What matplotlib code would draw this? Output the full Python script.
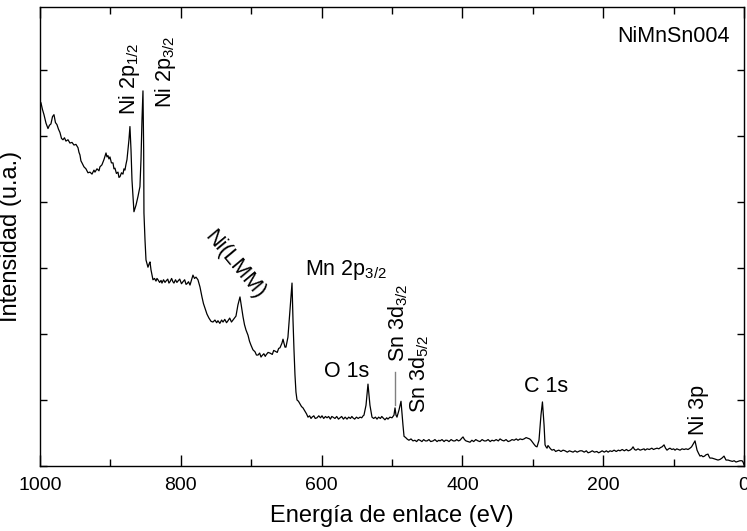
import numpy as np
import matplotlib
matplotlib.use("Agg")
import matplotlib.pyplot as plt

plt.rcParams['font.family'] = ['Liberation Sans', 'DejaVu Sans']
plt.rcParams['mathtext.default'] = 'regular'

# espectro XPS de barrido (energia de enlace en eV, intensidad en u.a.)
energia = [
    # 1000-876 eV, fondo alto
    1000.0, 998.6, 996.5, 994.3, 991.4, 988.6, 986.5, 984.4, 982.2, 980.1,
    978.0, 975.9, 973.7, 971.6, 969.4, 967.3, 965.2, 963.1, 960.2, 957.4,
    954.5, 951.7, 948.9, 946.0, 944.6, 943.2, 941.8, 940.3, 937.5, 934.7,
    931.8, 929.0, 926.1, 923.3, 921.9, 919.0, 916.2, 914.8, 912.0, 909.1,
    907.7, 906.2, 904.8, 903.4, 902.0, 900.6, 898.5, 896.3, 894.9, 893.5,
    891.4, 889.2, 887.8, 886.4, 884.2, 882.1, 880.7, 879.3, 877.8, 876.4,
    # Ni 2p
    873.6, 872.2, 870.7, 869.3, 866.5, 863.6, 860.8, 858.0, 856.5, 855.1,
    853.7, 852.7, 852.3, 850.8, 849.4, 846.6, 845.0, 843.7, 842.3,
    # 840-787 eV
    839.5, 837.3, 835.2, 833.8, 832.4, 830.0, 828.0, 826.7, 824.5, 822.4,
    821.0, 818.5, 816.8, 815.3, 813.0, 811.2, 809.7, 807.5, 805.5, 804.0,
    801.5, 799.0, 796.9, 794.5, 792.5, 791.2, 789.0, 786.9,
    782.7, 780.5, 778.4, 775.6, 772.7, 769.9, 767.8, 765.6, 762.8, 760.0, 757.0,
    754.3, 751.5, 749.0, 747.2, 744.5, 742.0, 740.0, 737.5, 735.0, 732.9,
    730.5, 728.0, 725.8,
    # Ni LMM
    721.6, 718.8, 715.9, 713.1, 711.6, 709.5, 707.4, 704.5, 702.4, 700.3, 697.5,
    694.6, 692.5, 690.3, 688.0, 686.0, 684.7, 682.0, 680.0, 679.0, 676.0,
    673.3, 670.0, 668.0, 666.2, 663.0, 661.0, 659.1,
    # Mn 2p
    656.3, 654.8, 652.0, 650.6, 647.8, 644.9, 642.0, 640.6, 639.2, 637.8,
    636.4, 634.9, 632.8, 630.7, 628.5, 626.4, 623.6, 621.4, 619.3,
    617.0, 615.0, 613.6, 611.0, 609.0, 606.5, 604.0, 601.5, 599.4, 597.0,
    594.5, 592.3, 590.0, 587.5, 585.5, 583.8, 581.0, 578.5, 576.0, 573.8,
    571.5, 569.0, 566.5, 563.9, 561.5, 559.0, 557.0, 555.5, 553.0, 550.5,
    548.0, 545.4, 543.0, 541.0, 539.8,
    # O 1s y Sn 3d
    536.9, 534.1, 531.3, 528.4, 526.0, 523.5, 521.3, 519.0, 516.5, 514.5,
    512.8, 510.0, 507.5, 505.7, 503.0, 500.0, 497.2, 495.7, 494.3, 492.9,
    490.0, 487.2, 484.4, 482.9, 480.5, 478.7,
    476.0, 473.0, 470.2, 467.5, 465.0, 462.5, 460.2, 457.5, 455.0, 452.5,
    450.2, 447.5, 445.0, 441.7, 439.0, 436.0, 433.5, 431.8, 429.0, 426.0,
    424.0, 421.8, 419.0, 416.0, 413.0, 410.5, 408.0, 405.5, 403.4, 401.0,
    399.1, 397.0, 394.9, 392.0, 389.2, 386.5, 384.0, 381.0, 377.8, 375.0,
    372.0, 369.0, 366.4, 363.5, 360.5, 358.0, 355.1, 352.0, 349.0, 346.5,
    343.7, 341.0, 338.0, 335.0, 332.4, 329.5, 326.5, 323.5, 321.0, 318.0,
    315.0, 312.5, 309.5, 306.8, 304.5, 302.5, 300.4, 298.3,
    # C 1s
    296.0, 294.0, 291.2, 288.4, 286.3, 284.0, 282.6, 281.2, 279.8, 278.4,
    276.9, 274.8, 272.7,
    270.0, 267.5, 265.6, 263.0, 260.0, 257.0, 254.2, 251.0, 248.0, 245.5,
    242.8, 240.0, 237.0, 233.0, 230.1, 227.0, 224.0, 221.5, 218.7, 215.5,
    212.5, 209.0, 206.5, 204.5, 201.5, 198.5, 195.5, 193.0, 190.3, 187.5,
    184.5, 181.5, 178.5, 176.1, 173.0, 170.0, 167.0, 164.5, 161.9, 159.5,
    157.6, 155.5, 153.4, 150.5, 147.5, 144.5, 142.0, 140.6, 137.5, 134.5,
    131.0, 128.5, 126.4, 123.5, 121.0, 118.5, 116.4, 113.6, 111.5, 109.4,
    107.0, 105.1, 102.5, 100.0, 98.0, 95.5, 93.0, 90.9, 88.0, 85.0,
    82.4, 79.5, 76.7, 74.5,
    # Ni 3p
    72.4, 69.6, 66.7, 64.5, 62.5, 60.5, 58.3, 56.0, 54.0, 51.2,
    49.5, 48.4, 45.5, 42.6, 40.0, 36.9, 34.0, 31.3, 28.4, 25.6,
    22.5, 19.9, 16.5, 14.0, 11.4, 8.5, 5.7, 2.8, 1.4, 0.0,
]
intensidad = [
    55.2, 55.0, 54.0, 53.2, 51.9, 51.1, 51.6, 51.8, 52.9, 53.2,
    52.0, 51.7, 51.0, 50.5, 49.6, 49.4, 49.7, 49.2, 49.4, 48.9,
    49.0, 48.6, 48.7, 48.2, 47.5, 47.1, 46.2, 45.9, 45.3, 45.0,
    44.4, 44.5, 44.2, 44.8, 44.5, 45.0, 44.7, 45.3, 45.6, 46.4,
    46.9, 47.4, 46.8, 47.0, 46.5, 46.8, 45.9, 45.9, 45.0, 45.1,
    44.3, 44.5, 43.7, 43.8, 44.4, 44.2, 45.0, 44.8, 45.7, 46.4,
    49.4, 51.4, 47.9, 43.3, 38.5, 39.5, 40.8, 42.3, 46.4, 52.4,
    56.8, 47.9, 38.3, 34.2, 31.2, 30.1, 30.6, 30.9, 29.7,
    28.2, 28.4, 28.0, 28.4, 28.2, 27.8, 28.1, 27.7, 28.2, 27.8,
    28.0, 28.3, 27.7, 27.9, 28.4, 27.9, 27.7, 28.2, 27.8, 28.0,
    28.3, 27.6, 27.9, 28.2, 27.5, 27.6, 27.9, 27.4,
    28.9, 28.4, 28.6, 28.2, 27.1, 25.6, 24.6, 23.9, 23.0, 22.4, 21.9,
    21.8, 22.1, 21.7, 22.0, 21.6, 22.1, 21.8, 22.2, 21.7, 22.0,
    22.4, 21.8, 22.1,
    22.7, 24.4, 25.6, 23.6, 22.6, 21.4, 20.6, 19.8, 18.9, 18.3, 17.6,
    17.3, 16.8, 16.8, 17.1, 16.5, 16.7, 17.0, 16.6, 16.8, 17.2,
    17.1, 16.9, 17.5, 17.4, 17.2, 17.8, 17.9,
    18.6, 19.2, 18.0, 18.0, 19.5, 23.6, 27.7, 22.1, 17.6, 13.8,
    11.2, 10.0, 9.8, 9.4, 9.0, 8.8, 8.3, 7.9, 7.4,
    7.6, 7.2, 7.4, 7.6, 7.2, 7.3, 7.6, 7.3, 7.6, 7.2,
    7.5, 7.3, 7.5, 7.1, 7.5, 7.4, 7.2, 7.5, 7.1, 7.3,
    7.5, 7.1, 7.4, 7.1, 7.4, 7.2, 7.5, 7.3, 7.1, 7.4,
    7.2, 7.4, 7.3, 7.6, 7.7,
    9.2, 12.4, 9.2, 7.4, 7.2, 7.4, 7.1, 7.4, 7.2, 7.5,
    7.3, 7.0, 7.3, 7.1, 7.4, 7.3, 7.7, 8.8, 7.7, 7.4,
    8.5, 9.8, 6.2, 4.5, 4.3, 4.1,
    3.9, 4.1, 3.8, 3.9, 3.7, 4.0, 3.9, 3.7, 4.0, 3.8,
    3.8, 4.0, 3.7, 3.8, 4.0, 3.7, 3.9, 3.8, 4.0, 3.7,
    3.9, 3.9, 3.7, 4.0, 3.8, 3.8, 4.0, 3.8, 3.9, 4.2,
    4.4, 4.0, 3.8, 3.7, 3.6, 3.9, 3.7, 4.0, 3.8, 3.7,
    4.0, 3.8, 3.8, 4.0, 3.7, 3.9, 3.8, 4.0, 3.8, 4.1,
    3.9, 3.8, 4.0, 3.7, 3.8, 4.0, 3.9, 4.1, 3.9, 4.1,
    4.0, 4.1, 4.3, 4.2, 4.1, 3.9, 3.6, 3.3,
    3.0, 2.9, 3.9, 7.7, 9.7, 6.2, 3.2, 2.9, 2.7, 3.1,
    2.9, 2.6, 2.4,
    2.5, 2.2, 2.3, 2.4, 2.2, 2.4, 2.3, 2.1, 2.3, 2.2,
    2.1, 2.3, 2.1, 2.3, 2.3, 2.1, 2.3, 2.0, 2.1, 2.3,
    2.1, 2.2, 2.0, 2.1, 2.3, 2.1, 2.3, 2.1, 2.3, 2.2,
    2.4, 2.2, 2.4, 2.3, 2.5, 2.3, 2.5, 2.3, 2.4, 2.6,
    2.9, 2.5, 2.4, 2.6, 2.4, 2.5, 2.6, 2.4, 2.6, 2.5,
    2.7, 2.5, 2.6, 2.7, 2.6, 2.8, 2.9, 3.2, 2.7, 2.4,
    2.6, 2.7, 2.5, 2.6, 2.4, 2.6, 2.5, 2.4, 2.6, 2.5,
    2.6, 2.5, 2.7, 2.9,
    3.3, 3.8, 2.4, 1.9, 1.5, 1.6, 1.4, 1.5, 1.7, 1.8,
    1.4, 1.2, 1.2, 1.1, 1.0, 0.9, 1.0, 1.2, 1.5, 0.9,
    0.9, 0.8, 0.7, 0.8, 0.6, 0.7, 0.8, 0.8, 0.6, 0.2,
]

fig = plt.figure(figsize=(7.47, 5.31), dpi=100)
ax = fig.add_axes([0.0535, 0.1224, 0.9425, 0.8644])

ax.plot(energia, intensidad, color='black', lw=0.9)

ax.set_xlim(1000, 0)
ax.set_ylim(0, 69.5)
ax.set_xticks(np.arange(0, 1001, 200))
ax.set_xticks(np.arange(100, 1000, 200), minor=True)
ax.set_yticks(np.arange(0, 61, 10))
ax.set_yticklabels([])

ax.tick_params(axis='both', which='both', direction='in', top=True, right=True,
               width=1.0, labelsize=14, pad=8)
ax.tick_params(axis='x', which='major', length=8)
ax.tick_params(axis='x', which='minor', length=5)
ax.tick_params(axis='y', which='major', length=5)
for s in ax.spines.values():
    s.set_linewidth(1.0)

ax.set_xlabel('Energía de enlace (eV)', fontsize=17, labelpad=8)
ax.set_ylabel('Intensidad (u.a.)', fontsize=17)
ax.yaxis.set_label_coords(-0.026, 0.5)

fs = 15.5
ax.text(872.9, 53.2, r'Ni 2p$_{1/2}$', rotation=90, ha='center', va='bottom', fontsize=fs)
ax.text(822.4, 54.2, r'Ni 2p$_{3/2}$', rotation=90, ha='center', va='bottom', fontsize=fs)
ax.text(723, 30.5, 'Ni(LMM)', rotation=-50, ha='center', va='center', fontsize=fs)
ax.text(623.6, 28.9, r'Mn 2p$_{3/2}$', ha='left', va='baseline', fontsize=fs)
ax.text(596.6, 13.5, 'O 1s', ha='left', va='baseline', fontsize=fs)
ax.text(491.5, 15.8, r'Sn 3d$_{3/2}$', rotation=90, ha='center', va='bottom', fontsize=fs)
ax.plot([495.7, 495.7], [14.2, 9.2], color='gray', lw=1.0)
ax.text(461, 8.0, r'Sn 3d$_{5/2}$', rotation=90, ha='center', va='bottom', fontsize=fs)
ax.text(312.5, 11.2, 'C 1s', ha='left', va='baseline', fontsize=fs)
ax.text(64.6, 4.7, 'Ni 3p', rotation=90, ha='center', va='bottom', fontsize=fs)
ax.text(0.98, 0.924, 'NiMnSn004', transform=ax.transAxes, ha='right', va='baseline', fontsize=fs)

fig.savefig('out.png', dpi=100)
